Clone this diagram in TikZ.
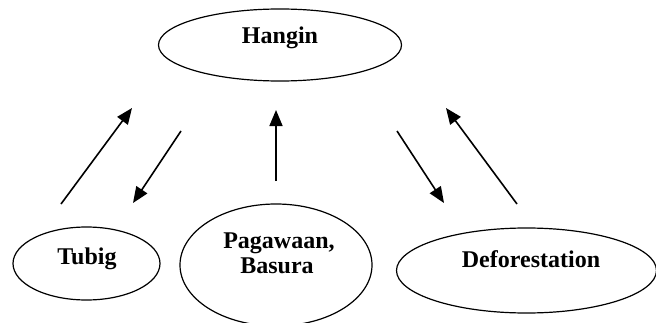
\documentclass[tikz,border=0pt]{standalone}
\usepackage{fontspec}
\setmainfont{Liberation Serif}
\usetikzlibrary{arrows.meta,shapes.geometric}
\begin{document}
\begin{tikzpicture}[x=1pt,y=1pt,
  oval/.style={draw,ellipse,line width=1.2pt,inner sep=0pt},
  lbl/.style={font=\fontsize{24}{25}\selectfont\bfseries,anchor=base,inner sep=0pt,align=center},
  arr/.style={line width=1.6pt,-{Triangle[length=16pt,width=13pt]}}]
\useasboundingbox (0,0) rectangle (656,322);
% ellipses
\node[oval,minimum width=243pt,minimum height=72pt] (hangin) at (280,277) {};
\node[oval,minimum width=147pt,minimum height=73pt] (tubig) at (86.5,58.5) {};
\node[oval,minimum width=192pt,minimum height=122pt] (pagawaan) at (276,57) {};
\node[oval,minimum width=260pt,minimum height=85pt] (defor) at (526.5,51.5) {};
% texts
\node[lbl] (thangin) at (280,278) {Hangin};
\node[lbl] (ttubig) at (87,58) {Tubig};
\node[lbl] (tpag) at (279,74) {Pagawaan,};
\node[lbl] (tbas) at (277,49) {Basura};
\node[lbl] (tdef) at (531,55) {Deforestation};
% arrow endpoints
\coordinate (a1s) at (61,118);  \coordinate (a1e) at (132,214);
\coordinate (a2s) at (181,191); \coordinate (a2e) at (133,119);
\coordinate (a3s) at (276,141); \coordinate (a3e) at (276,212);
\coordinate (a4s) at (397,191); \coordinate (a4e) at (444,119);
\coordinate (a5s) at (517,118); \coordinate (a5e) at (446,214);
\draw[arr] (a1s) -- (a1e);
\draw[arr] (a2s) -- (a2e);
\draw[arr] (a3s) -- (a3e);
\draw[arr] (a4s) -- (a4e);
\draw[arr] (a5s) -- (a5e);
\end{tikzpicture}
\end{document}
